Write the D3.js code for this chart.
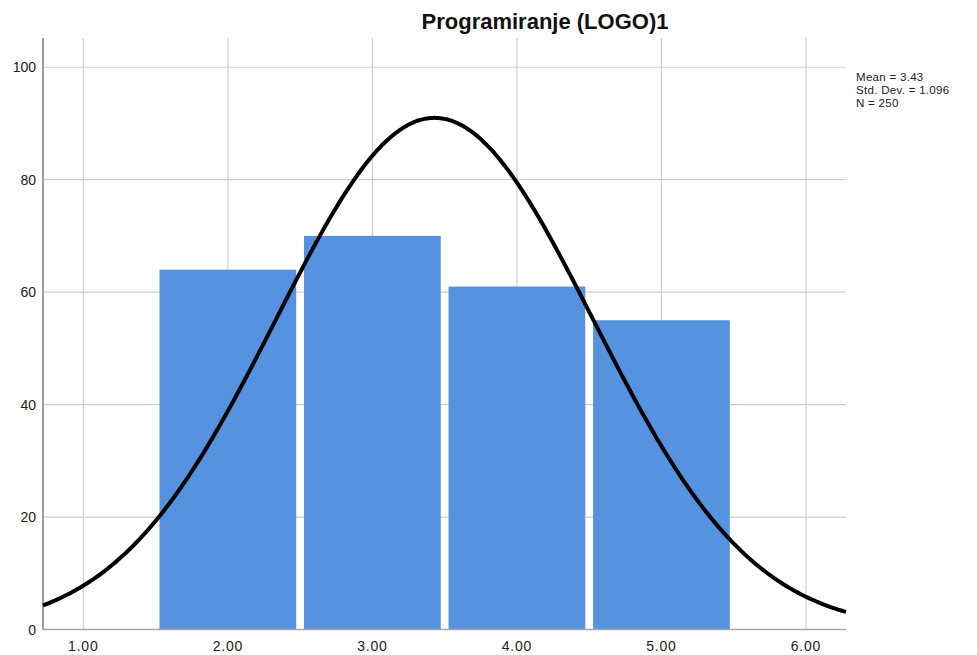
<!DOCTYPE html>
<html><head><meta charset="utf-8">
<script src="https://cdn.jsdelivr.net/npm/d3@7"></script>
<style>body{margin:0;background:#fff}svg{display:block}text{font-family:"Liberation Sans",Arial,sans-serif}</style>
</head><body><svg id="c" width="977" height="655"></svg>
<script>
const binCenters = [2, 3, 4, 5];
const counts = [64, 70, 61, 55];
const xTicks = [1, 2, 3, 4, 5, 6];
const yTicks = [0, 20, 40, 60, 80, 100];
const statMean = 3.43, statSD = 1.096, statN = 250;
const title = "Programiranje (LOGO)1";
const legendLines = ["Mean = 3.43", "Std. Dev. = 1.096", "N = 250"];

const svg = d3.select("#c");
const L = 43, R = 846, T = 38, B = 629.5;
const x = d3.scaleLinear().domain([0.721, 6.277]).range([L, R]);
const y = d3.scaleLinear().domain([0, 105.2]).range([B, T]);

// gridlines
svg.append("g").selectAll("line").data(xTicks).join("line")
  .attr("x1", d => x(d)).attr("x2", d => x(d)).attr("y1", T).attr("y2", B)
  .attr("stroke", "#cfcfcf").attr("stroke-width", 1.2);
svg.append("g").selectAll("line").data(yTicks.filter(d => d > 0)).join("line")
  .attr("x1", L).attr("x2", R).attr("y1", d => y(d)).attr("y2", d => y(d))
  .attr("stroke", "#cfcfcf").attr("stroke-width", 1.2);

// bars
const half = 0.473;
svg.append("g").selectAll("rect").data(binCenters).join("rect")
  .attr("x", d => x(d - half)).attr("width", d => x(d + half) - x(d - half))
  .attr("y", (d, i) => y(counts[i])).attr("height", (d, i) => B - y(counts[i]))
  .attr("fill", "#5592e0");

// axes
svg.append("line").attr("x1", L).attr("x2", R).attr("y1", B).attr("y2", B)
  .attr("stroke", "#a8a8a8").attr("stroke-width", 1.5);
svg.append("line").attr("x1", L).attr("x2", L).attr("y1", T).attr("y2", B)
  .attr("stroke", "#9a9a9a").attr("stroke-width", 2);

// normal curve
const pts = d3.range(0, 401).map(i => x.domain()[0] + (x.domain()[1] - x.domain()[0]) * i / 400);
const pdf = v => statN * 1 / (statSD * Math.sqrt(2 * Math.PI)) * Math.exp(-0.5 * ((v - statMean) / statSD) ** 2);
svg.append("path").datum(pts)
  .attr("d", d3.line().x(d => x(d)).y(d => y(pdf(d))).curve(d3.curveBasis))
  .attr("fill", "none").attr("stroke", "#000").attr("stroke-width", 4);

// tick labels
svg.append("g").selectAll("text").data(yTicks).join("text")
  .attr("x", 36).attr("y", d => y(d) + 5).attr("text-anchor", "end")
  .attr("font-size", 14).attr("fill", "#222").text(d => d);
svg.append("g").selectAll("text").data(xTicks).join("text")
  .attr("x", d => x(d)).attr("y", 651).attr("text-anchor", "middle")
  .attr("font-size", 14).attr("letter-spacing", 0.8).attr("fill", "#222").text(d => d.toFixed(2));

// title
svg.append("text").attr("x", 545).attr("y", 29).attr("text-anchor", "middle")
  .attr("font-size", 22).attr("font-weight", "bold").attr("fill", "#111").text(title);

// legend
svg.append("g").selectAll("text").data(legendLines).join("text")
  .attr("x", 856).attr("y", (d, i) => 80.5 + i * 13.4).attr("font-size", 11.5)
  .attr("letter-spacing", 0.3).attr("fill", "#222").text(d => d);
</script></body></html>
